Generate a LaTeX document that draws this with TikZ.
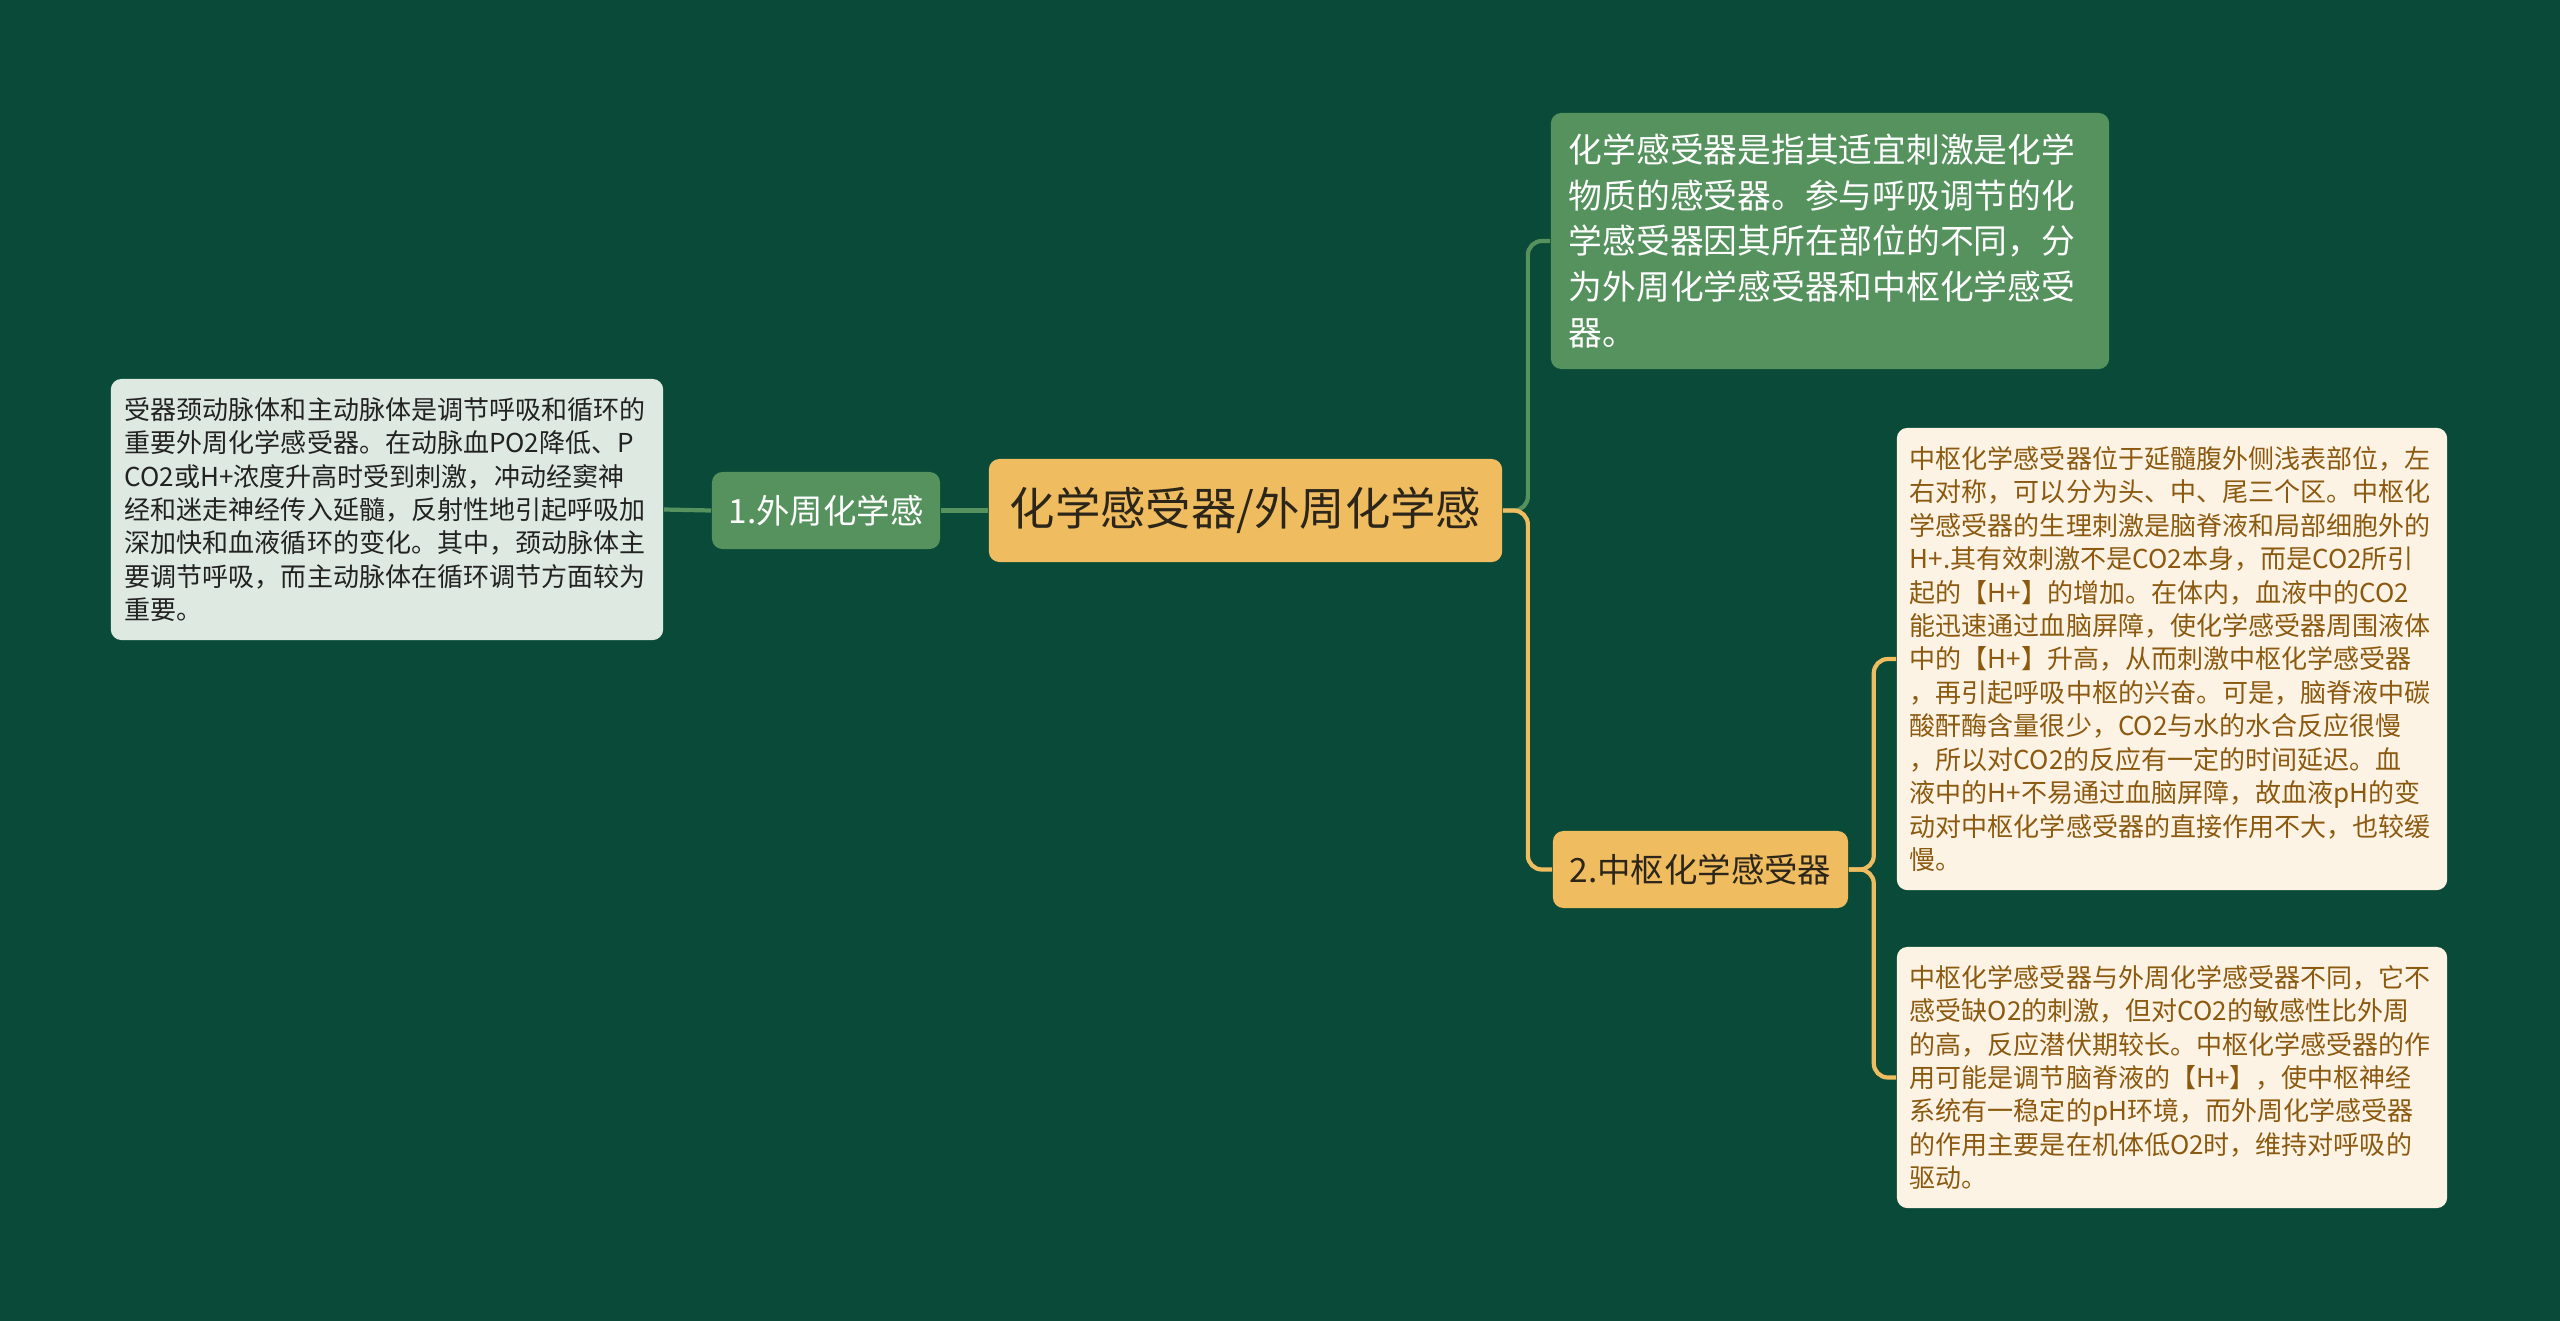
\documentclass[tikz,border=0pt]{standalone}
\usepackage{fontspec}
\usepackage{xcolor}
\setmainfont{Noto Sans CJK SC}
\definecolor{boardgreen}{RGB}{10,74,56}
\definecolor{leafgreen}{RGB}{85,146,94}
\definecolor{rootgold}{RGB}{240,188,96}
\definecolor{mintpale}{RGB}{222,234,225}
\definecolor{creampale}{RGB}{253,243,228}
\definecolor{inkbrown}{RGB}{139,90,16}
\definecolor{inkdark}{RGB}{44,38,26}
\definecolor{inkblack}{RGB}{34,34,34}
\tikzset{
  box/.style={rounded corners=3pt, inner sep=0pt, align=center},
  greenbox/.style={box, fill=leafgreen, text=white},
  goldbox/.style={box, fill=rootgold, text=inkdark},
  notebox/.style={box, align=left, inner xsep=0.13cm, text width=5.24cm,
    font=\fontsize{7.4}{9.5}\selectfont},
  greenlink/.style={draw=leafgreen, line width=1.2pt, rounded corners=4pt},
  goldlink/.style={draw=rootgold, line width=1.2pt, rounded corners=4pt}
}

\begin{document}
\begin{tikzpicture}[x=0.01cm, y=-0.01cm]

% 1. BOARD
\fill[boardgreen] (0,0) rectangle (2560,1321);

% 2. ROOT & MAIN BRANCHES
\node[goldbox, minimum width=5.13cm, minimum height=1.03cm,
  font=\fontsize{12.9}{16}\selectfont] (root) at (1245.5,510.5) {化学感受器/外周化学感};
\node[greenbox, minimum width=2.28cm, minimum height=0.77cm,
  font=\fontsize{9.5}{12}\selectfont] (peri) at (826,510.5) {1.外周化学感};
\node[goldbox, minimum width=2.95cm, minimum height=0.77cm,
  font=\fontsize{9.5}{12}\selectfont] (cent) at (1700.5,869.5) {2.中枢化学感受器};

% 3. LEAVES
% Definition (top right)
\node[greenbox, align=left, inner xsep=0.18cm, text width=5.22cm,
  minimum height=2.56cm, font=\fontsize{9.6}{12.95}\selectfont] (def) at (1830,241) {%
化学感受器是指其适宜刺激是化学\\
物质的感受器。参与呼吸调节的化\\
学感受器因其所在部位的不同，分\\
为外周化学感受器和中枢化学感受\\
器。};

% Peripheral receptors (left)
\node[notebox, fill=mintpale, text=inkblack, inner xsep=0.14cm,
  minimum height=2.61cm] (leafL) at (387,509.5) {%
受器颈动脉体和主动脉体是调节呼吸和循环的\\
重要外周化学感受器。在动脉血PO2降低、P\\
CO2或H+浓度升高时受到刺激，冲动经窦神\\
经和迷走神经传入延髓，反射性地引起呼吸加\\
深加快和血液循环的变化。其中，颈动脉体主\\
要调节呼吸，而主动脉体在循环调节方面较为\\
重要。};

% Central receptors (right)
\node[notebox, fill=creampale, text=inkbrown, minimum height=4.62cm] (leafA) at (2172,659) {%
中枢化学感受器位于延髓腹外侧浅表部位，左\\
右对称，可以分为头、中、尾三个区。中枢化\\
学感受器的生理刺激是脑脊液和局部细胞外的\\
H+.其有效刺激不是CO2本身，而是CO2所引\\
起的【H+】的增加。在体内，血液中的CO2\\
能迅速通过血脑屏障，使化学感受器周围液体\\
中的【H+】升高，从而刺激中枢化学感受器\\
，再引起呼吸中枢的兴奋。可是，脑脊液中碳\\
酸酐酶含量很少，CO2与水的水合反应很慢\\
，所以对CO2的反应有一定的时间延迟。血\\
液中的H+不易通过血脑屏障，故血液pH的变\\
动对中枢化学感受器的直接作用不大，也较缓\\
慢。};

\node[notebox, fill=creampale, text=inkbrown, minimum height=2.61cm] (leafB) at (2172,1077.5) {%
中枢化学感受器与外周化学感受器不同，它不\\
感受缺O2的刺激，但对CO2的敏感性比外周\\
的高，反应潜伏期较长。中枢化学感受器的作\\
用可能是调节脑脊液的【H+】，使中枢神经\\
系统有一稳定的pH环境，而外周化学感受器\\
的作用主要是在机体低O2时，维持对呼吸的\\
驱动。};

% 4. CONNECTORS
\draw[greenlink] (root.west) -- (peri.east);
\draw[greenlink] (peri.west) -- (leafL.east);
\draw[greenlink] (root.east) -- ++(25,0) |- (def.west);
\draw[goldlink] (root.east) -- ++(25,0) |- (cent.west);
\draw[goldlink] (cent.east) -- ++(25,0) |- (leafA.west);
\draw[goldlink] (cent.east) -- ++(25,0) |- (leafB.west);

\end{tikzpicture}
\end{document}
